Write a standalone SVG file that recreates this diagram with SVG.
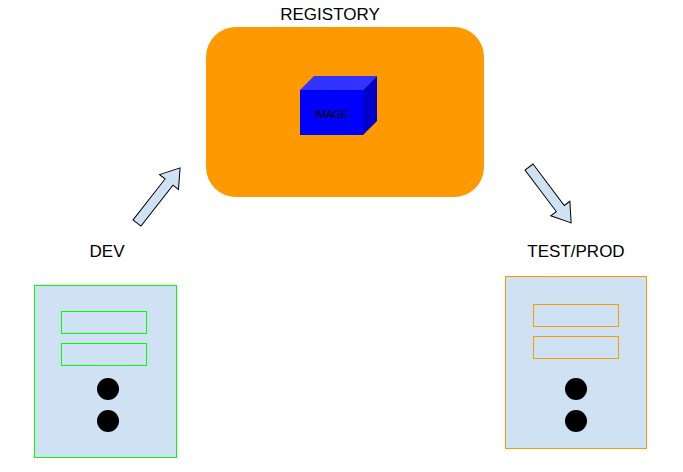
<svg xmlns="http://www.w3.org/2000/svg" width="683" height="472" viewBox="0 0 683 472">
<style>
text{font-family:"Liberation Sans",Arial,sans-serif;fill:#000}
.lbl{font-size:17px;text-anchor:middle}
.arrow{fill:#cfe2f3;stroke:#000;stroke-width:1}
.srv{fill:#cfe2f3}
.dot{fill:#000}
</style>
<rect width="683" height="472" fill="#fff"/>
<g id="registory">
<rect x="206" y="27" width="278" height="170" rx="30" fill="#ff9900"/>
<text class="lbl" x="330" y="20">REGISTORY</text>
</g>
<g id="image">
<polygon points="300,90 314,76 377,76 363,90" fill="#3333ff"/>
<polygon points="363,90 377,76 377,121 363,135" fill="#0000cc"/>
<rect x="300" y="90" width="63" height="45" fill="#0000ff"/>
<text x="331" y="118" font-size="11" text-anchor="middle" letter-spacing="-0.5">IMAGE</text>
</g>
<g id="connectors">
<polygon class="arrow" transform="translate(137,223) rotate(-52)" points="0,-5 52,-5 52,-12 70,0 52,12 52,5 0,5"/>
<polygon class="arrow" transform="translate(529,167) rotate(53)" points="0,-5 52,-5 52,-12 70,0 52,12 52,5 0,5"/>
</g>
<g id="dev">
<text class="lbl" x="107" y="257">DEV</text>
<rect class="srv" x="34.5" y="285.5" width="142" height="172" stroke="#00ff00"/>
<rect class="srv" x="61.5" y="311.5" width="85" height="22" stroke="#00ff00"/>
<rect class="srv" x="61.5" y="343.5" width="85" height="22" stroke="#00ff00"/>
<circle class="dot" cx="108" cy="389" r="11"/>
<circle class="dot" cx="108" cy="421" r="11"/>
</g>
<g id="testprod">
<text class="lbl" x="576" y="257">TEST/PROD</text>
<rect class="srv" x="505.5" y="276.5" width="141" height="172" stroke="#ff9900"/>
<rect class="srv" x="533.5" y="304.5" width="85" height="22" stroke="#ff9900"/>
<rect class="srv" x="533.5" y="336.5" width="85" height="22" stroke="#ff9900"/>
<circle class="dot" cx="576" cy="389" r="11"/>
<circle class="dot" cx="576" cy="421" r="11"/>
</g>
</svg>
